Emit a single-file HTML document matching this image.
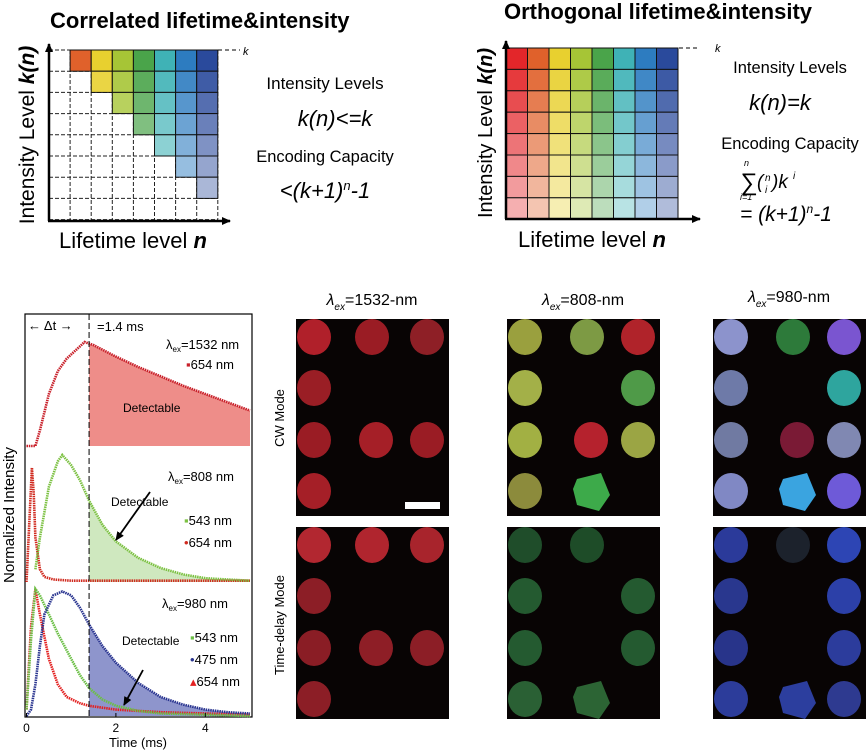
<!DOCTYPE html>
<html><head><meta charset="utf-8"><style>
body{margin:0;background:#fff;}
svg{display:block;font-family:"Liberation Sans",Arial,sans-serif;}
</style></head><body>
<svg id="fig" width="866" height="752" viewBox="0 0 866 752">
<defs>
<marker id="arr" markerWidth="10" markerHeight="10" refX="8" refY="5" orient="auto" markerUnits="userSpaceOnUse"><path d="M0,1 L9,5 L0,9 Z" fill="#000"/></marker>
</defs>
<g>
<text x="50" y="28" font-size="22" font-weight="bold">Correlated  lifetime&amp;intensity</text>
<g id="gridL"></g>
<line x1="49" y1="221" x2="49" y2="44" stroke="#000" stroke-width="2.5" marker-end="url(#arr)"/>
<line x1="48" y1="221" x2="230" y2="221" stroke="#000" stroke-width="2.5" marker-end="url(#arr)"/>
<line x1="218" y1="50" x2="240" y2="50" stroke="#000" stroke-dasharray="4,3"/>
<text x="243" y="55" font-size="11" font-style="italic">k</text>
<text x="59" y="248" font-size="22">Lifetime level <tspan font-weight="bold" font-style="italic">n</tspan></text>
<text transform="translate(34,135) rotate(-90)" text-anchor="middle" font-size="21">Intensity Level <tspan font-weight="bold" font-style="italic">k(n)</tspan></text>
<text x="325" y="89" text-anchor="middle" font-size="17">Intensity  Levels</text>
<text x="335" y="126" text-anchor="middle" font-size="22" font-style="italic">k(n)&lt;=k</text>
<text x="325" y="162" text-anchor="middle" font-size="16.5">Encoding Capacity</text>
<text x="325" y="198" text-anchor="middle" font-size="22" font-style="italic">&lt;(k+1)<tspan font-size="13" dy="-8">n</tspan><tspan dy="8">-1</tspan></text>
</g>
<g>
<text x="658" y="19" text-anchor="middle" font-size="22" font-weight="bold">Orthogonal lifetime&amp;intensity</text>
<g id="gridR"></g>
<line x1="506" y1="219" x2="506" y2="41" stroke="#000" stroke-width="2.5" marker-end="url(#arr)"/>
<line x1="505" y1="219" x2="700" y2="219" stroke="#000" stroke-width="2.5" marker-end="url(#arr)"/>
<line x1="679" y1="48" x2="697" y2="48" stroke="#000" stroke-dasharray="4,3"/>
<text x="715" y="52" font-size="11" font-style="italic">k</text>
<text x="518" y="247" font-size="22">Lifetime level <tspan font-weight="bold" font-style="italic">n</tspan></text>
<text transform="translate(492,133) rotate(-90)" text-anchor="middle" font-size="20">Intensity Level <tspan font-weight="bold" font-style="italic">k(n)</tspan></text>
<text x="790" y="73" text-anchor="middle" font-size="16.5">Intensity  Levels</text>
<text x="780" y="110" text-anchor="middle" font-size="22" font-style="italic">k(n)=k</text>
<text x="790" y="149" text-anchor="middle" font-size="16.5">Encoding Capacity</text>
<g font-style="italic">
<text x="740" y="190" font-size="24">∑</text>
<text x="744" y="166" font-size="9">n</text>
<text x="740" y="200" font-size="9">i=1</text>
<text x="757" y="188" font-size="19">(</text><text x="765" y="181" font-size="10">n</text><text x="765" y="193" font-size="10">i</text><text x="772" y="188" font-size="19">)k</text><text x="793" y="179" font-size="10">i</text>
</g>
<text x="740" y="221" font-size="21" font-style="italic">= (k+1)<tspan font-size="12" dy="-8">n</tspan><tspan dy="8">-1</tspan></text>
</g>
<g id="decay">
<rect x="25" y="314" width="227" height="403" fill="none" stroke="#000" stroke-width="1.2"/>
</g>
<g id="photos">
<text x="372" y="305" text-anchor="middle" font-size="16"><tspan font-style="italic">λ</tspan><tspan font-size="10" dy="5" font-style="italic">ex</tspan><tspan dy="-5">=1532-nm</tspan></text>
<text x="583" y="305" text-anchor="middle" font-size="16"><tspan font-style="italic">λ</tspan><tspan font-size="10" dy="5" font-style="italic">ex</tspan><tspan dy="-5">=808-nm</tspan></text>
<text x="789" y="302" text-anchor="middle" font-size="16"><tspan font-style="italic">λ</tspan><tspan font-size="10" dy="5" font-style="italic">ex</tspan><tspan dy="-5">=980-nm</tspan></text>
<text transform="translate(284,418) rotate(-90)" text-anchor="middle" font-size="13">CW Mode</text>
<text transform="translate(284,625) rotate(-90)" text-anchor="middle" font-size="13">Time-delay Mode</text>
</g>
</svg>
<script>
var NS="http://www.w3.org/2000/svg";
function mk(tag,attrs,parent){var e=document.createElementNS(NS,tag);for(var k in attrs)e.setAttribute(k,attrs[k]);parent.appendChild(e);return e;}
var baseColors=["#e3262a","#e0612b","#e8d02f","#a6c536","#4aa44a","#3fb2b6","#2d7cc0","#2a4a9c"];
var gridRows=8, gridCols=8;
function lighten(hex,f){var r=parseInt(hex.substr(1,2),16),g=parseInt(hex.substr(3,2),16),b=parseInt(hex.substr(5,2),16);
r=Math.round(r+(255-r)*f);g=Math.round(g+(255-g)*f);b=Math.round(b+(255-b)*f);return "rgb("+r+","+g+","+b+")";}
function drawGrid(gid,x0,y0,cw,ch,correlated){
  var g=document.getElementById(gid);
  if(correlated){
    for(var i=0;i<=gridCols;i++){var l=mk('line',{x1:x0+i*cw,y1:y0,x2:x0+i*cw,y2:y0+gridRows*ch,stroke:"#222","stroke-width":1,"stroke-dasharray":"4,2"},g);
      }
    for(var j=0;j<=gridRows;j++){var l2=mk('line',{x1:x0,y1:y0+j*ch,x2:x0+gridCols*cw,y2:y0+j*ch,stroke:"#222","stroke-width":1,"stroke-dasharray":"4,2"},g);
      }
  }
  for(var r=0;r<gridRows;r++)for(var c=0;c<gridCols;c++){
    var colored, color;
    if(correlated){colored=c>=r+1;color=lighten(baseColors[c],r*0.1);}
    else{colored=true;color=lighten(baseColors[c],r*0.09);}
    if(colored){
      var rc=mk('rect',{x:x0+c*cw,y:y0+r*ch,width:cw,height:ch,fill:color,stroke:"#111","stroke-width":1},g);
      
      
    }
  }
}
drawGrid('gridL',49,50,21.1,21.2,true);
drawGrid('gridR',506,48,21.5,21.4,false);

var t1532=[0,0.2,0.3,0.5,0.7,0.9,1.1,1.3,1.5,2,2.5,3,3.5,4,4.5,5];
var v1532=[0,0,0.15,0.5,0.72,0.84,0.92,1.0,0.97,0.86,0.76,0.67,0.58,0.5,0.42,0.34];
var t808g=[0.2,0.3,0.5,0.7,0.8,1.0,1.2,1.4,1.7,2,2.5,3,3.5,4,4.5,5];
var v808g=[0.1,0.35,0.75,0.95,1.0,0.92,0.8,0.64,0.45,0.32,0.19,0.11,0.06,0.03,0.02,0.01];
var t808r=[0,0.08,0.12,0.16,0.2,0.3,0.4,0.6,1,2,3,4,5];
var v808r=[0,0.6,0.9,0.7,0.35,0.1,0.04,0.02,0.01,0.01,0.01,0.01,0.01];
var t980g=[0,0.1,0.2,0.3,0.5,0.7,1.0,1.2,1.4,1.7,2,2.5,3,4,5];
var v980g=[0.05,0.6,1.0,0.95,0.8,0.65,0.45,0.32,0.22,0.13,0.08,0.04,0.02,0.01,0.0];
var t980b=[0,0.1,0.2,0.3,0.4,0.6,0.8,1.0,1.2,1.4,1.7,2,2.5,3,3.5,4,4.5,5];
var v980b=[0,0.05,0.25,0.55,0.8,0.95,0.98,0.95,0.85,0.72,0.55,0.42,0.26,0.15,0.09,0.05,0.03,0.02];
var t980r=[0,0.1,0.2,0.3,0.5,0.7,0.9,1.2,1.4,2,3,4,5];
var v980r=[0.05,0.7,1.0,0.8,0.45,0.25,0.15,0.1,0.08,0.05,0.03,0.02,0.01];
var xTicks=[0,2,4];
var delayT=1.4;

function xs(t){return 26.5+t*44.7;}
function ysTop(v){return 446-v*104;}
function ysMid(v){return 582-v*127;}
function ysBot(v){return 716-v*127;}

var dg=document.getElementById('decay');
function curve(ts,vs,yf,color,name){
  var pts=ts.map(function(t,i){return xs(t).toFixed(1)+","+yf(vs[i]).toFixed(1);}).join(" ");
  var p=mk('polyline',{points:pts,fill:"none",stroke:color,"stroke-width":2.6,"stroke-dasharray":"1.5,0.8"},dg);
  
  
}
function fillArea(ts,vs,yf,color,name){
  var d="M"+xs(delayT)+","+yf(0);
  var started=false;
  for(var i=0;i<ts.length;i++){if(ts[i]>=delayT){
    if(!started){var j=i-1;var fv=vs[j]+(vs[i]-vs[j])*(delayT-ts[j])/(ts[i]-ts[j]);d+=" L"+xs(delayT)+","+yf(fv);started=true;}
    d+=" L"+xs(ts[i])+","+yf(vs[i]);}}
  d+=" L"+xs(ts[ts.length-1])+","+yf(0)+" Z";
  var p=mk('path',{d:d,fill:color},dg);
  
  
}
fillArea(t1532,v1532,ysTop,"#ee8d89",'detectable-area-1532');
fillArea(t808g,v808g,ysMid,"#cfe8bf",'detectable-area-808');
fillArea(t980b,v980b,ysBot,"#8e95cc",'detectable-area-980');
curve(t1532,v1532,ysTop,"#c8202a",'series-1532-654nm');
curve(t808r,v808r,ysMid,"#d02a1f",'series-808-654nm');
curve(t808g,v808g,ysMid,"#7cc142",'series-808-543nm');
curve(t980r,v980r,ysBot,"#e32020",'series-980-654nm');
curve(t980g,v980g,ysBot,"#6bbf45",'series-980-543nm');
curve(t980b,v980b,ysBot,"#2a3590",'series-980-475nm');

var dl=mk('line',{x1:xs(delayT),y1:314,x2:xs(delayT),y2:717,stroke:"#000","stroke-width":1,"stroke-dasharray":"6,3"},dg);


xTicks.forEach(function(t){
  var l=mk('line',{x1:xs(t),y1:717,x2:xs(t),y2:713,stroke:"#000"},dg);
  
  
  var tx=mk('text',{x:xs(t),y:732,"text-anchor":"middle","font-size":12},dg);tx.textContent=t;
  
  
});
function txt(x,y,s,size,name,anchor){var e=mk('text',{x:x,y:y,"font-size":size,"text-anchor":anchor||"start"},dg);e.innerHTML=s;
  
  return e;}
txt(138,747,"Time (ms)",13,'x-axis-title-time','middle');
var yl=txt(0,0,"Normalized Intensity",15,'y-axis-title-intensity','middle');yl.setAttribute('transform','translate(14,515) rotate(-90)');
txt(28,330,"←  Δt  →",13,'delta-t-label');
txt(97,331,"=1.4 ms",13,'delay-value-label');
txt(166,349,"λ<tspan font-size='8' dy='3'>ex</tspan><tspan dy='-3'>=1532 nm</tspan>",13,'legend-title-1532');
txt(186,369,"<tspan fill='#c8202a'>▪</tspan>654 nm",13,'legend-1532-654');
txt(123,412,"Detectable",12,'detectable-label-1532');
txt(168,481,"λ<tspan font-size='8' dy='3'>ex</tspan><tspan dy='-3'>=808 nm</tspan>",13,'legend-title-808');
txt(111,506,"Detectable",12,'detectable-label-808');
txt(184,525,"<tspan fill='#7cc142'>▪</tspan>543 nm",13,'legend-808-543');
txt(184,547,"<tspan fill='#d02a1f'>•</tspan>654 nm",13,'legend-808-654');
txt(162,608,"λ<tspan font-size='8' dy='3'>ex</tspan><tspan dy='-3'>=980 nm</tspan>",13,'legend-title-980');
txt(122,645,"Detectable",12,'detectable-label-980');
txt(190,642,"<tspan fill='#6bbf45'>▪</tspan>543 nm",13,'legend-980-543');
txt(190,664,"<tspan fill='#2a3590'>•</tspan>475 nm",13,'legend-980-475');
txt(190,686,"<tspan fill='#e32020'>▴</tspan>654 nm",13,'legend-980-654');
[[150,492,116,540],[143,670,124,705]].forEach(function(a,i){
  var l=mk('line',{x1:a[0],y1:a[1],x2:a[2],y2:a[3],stroke:"#000","stroke-width":1.8,"marker-end":"url(#arr)"},dg);
  
  
});

var panelX=[296,507,713], panelW=153;
var panelY=[319,527], panelH=[197,192];
var colX=[18,76,131], rowY=[18,69,121,172];
var spots=[
 [[[0,0,"#b0202a"],[1,0,"#9a1c24"],[2,0,"#8e1f26"],[0,1,"#9a1e25"],[0,2,"#9a1c24"],[1,2,"#a51f27"],[2,2,"#9a1c24"],[0,3,"#a51f27"]],
  [[0,0,"#9aa03e"],[1,0,"#7d9a44"],[2,0,"#b0232a"],[0,1,"#a3b048"],[2,1,"#4f9a48"],[0,2,"#a2b043"],[1,2,"#b5222d"],[2,2,"#9ba544"],[0,3,"#8c8b3c"],[1,3,"#3daa4a","hex"]],
  [[0,0,"#8c93cc"],[1,0,"#2d7a3a"],[2,0,"#7a55d0"],[0,1,"#6e7aa8"],[2,1,"#2ea59e"],[0,2,"#707aa2"],[1,2,"#7a1a35"],[2,2,"#8088b2"],[0,3,"#8088c4"],[1,3,"#3aa4e0","hex"],[2,3,"#6e5ad8"]]],
 [[[0,0,"#b22730"],[1,0,"#b0252e"],[2,0,"#a8242c"],[0,1,"#8c1e26"],[0,2,"#8a1d25"],[1,2,"#8e1e26"],[2,2,"#8c1e26"],[0,3,"#8c1e26"]],
  [[0,0,"#1f4d2a"],[1,0,"#1e4c28"],[0,1,"#245a30"],[2,1,"#245a30"],[0,2,"#245a30"],[2,2,"#245a30"],[0,3,"#2a6034"],[1,3,"#2c6434","hex"]],
  [[0,0,"#2b3a9a"],[1,0,"#1c222c"],[2,0,"#2d45b4"],[0,1,"#29378e"],[2,1,"#2c40a8"],[0,2,"#28348a"],[2,2,"#2c3c9c"],[0,3,"#2c3c9a"],[1,3,"#2c3e9e","hex"],[2,3,"#2e3a90"]]]
];
var pg=document.getElementById('photos');
for(var m=0;m<2;m++)for(var p=0;p<3;p++){
  var px=panelX[p], py=panelY[m];
  var bg=mk('rect',{x:px,y:py,width:panelW,height:panelH[m],fill:"#080404"},pg);
  
  
  spots[m][p].forEach(function(s){
    var cx=px+colX[s[0]]+(s[0]==1&&s[1]>=2?4:0)+ (p>0&&s[0]==1?4:0), cy=py+rowY[s[1]];
    var e;
    if(s[3]=="hex"){
      e=mk('polygon',{points:[[cx-14,cy-12],[cx+10,cy-18],[cx+19,cy+4],[cx+8,cy+20],[cx-14,cy+14],[cx-18,cy-2]].map(function(q){return q.join(",");}).join(" "),fill:s[2]},pg);
    } else {
      e=mk('ellipse',{cx:cx,cy:cy,rx:17,ry:18,fill:s[2]},pg);
    }
    
    
  });
}
var sb=mk('rect',{x:405,y:502,width:35,height:7,fill:"#fff"},pg);


</script>
</body></html>
